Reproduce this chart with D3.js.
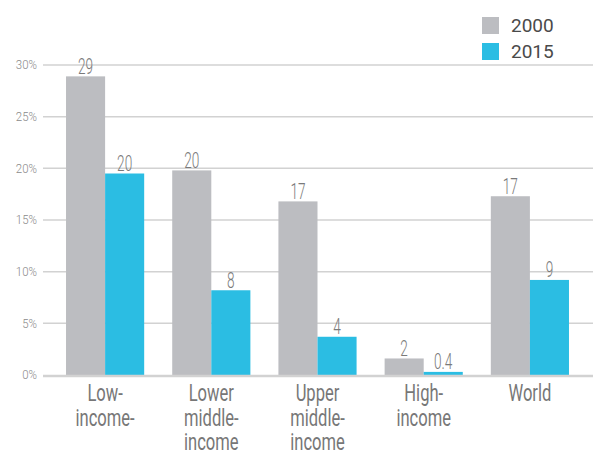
<!DOCTYPE html>
<html>
<head>
<meta charset="utf-8">
<script src="https://cdn.jsdelivr.net/npm/d3@7"></script>
<style>
html,body{margin:0;padding:0;background:#fff;}
svg{display:block;}
</style>
</head>
<body>
<script>
const categories = [["Low-","income-"],["Lower","middle-","income"],["Upper","middle-","income"],["High-","income"],["World"]];
const categoryKeys = ["Low-income","Lower middle-income","Upper middle-income","High-income","World"];
const series = ["2000","2015"];
const values2000 = [28.9, 19.8, 16.8, 1.6, 17.3];
const values2015 = [19.5, 8.2, 3.7, 0.3, 9.2];
const labels2000 = ["29","20","17","2","17"];
const labels2015 = ["20","8","4","0.4","9"];
const yTicks = [0,5,10,15,20,25,30];
const colors = ["#bcbdc1","#2bbde3"];

const W = 593, H = 455;
const svg = d3.select("body").append("svg").attr("width", W).attr("height", H);

const y = d3.scaleLinear().domain([0,30]).range([375,65]);
const x0 = d3.scaleBand().domain(categoryKeys).range([52,583]).paddingInner(0.264).paddingOuter(0.132);
const x1 = d3.scaleBand().domain(series).range([0, x0.bandwidth()]);

const FONT = "Roboto, 'Liberation Sans', sans-serif";

function ctext(parent, x, yy, sx, size, fill, anchor, weight) {
  const g = parent.append("g").attr("transform", `translate(${x},${yy})`);
  return g.append("text").attr("transform", `scale(${sx},1)`)
    .attr("text-anchor", anchor || "middle")
    .attr("font-family", FONT).attr("font-weight", weight || 300)
    .attr("font-size", size).attr("fill", fill);
}

// gridlines
svg.append("g").selectAll("line").data(yTicks.filter(t=>t>0)).join("line")
  .attr("x1",43).attr("x2",593).attr("y1",d=>y(d)).attr("y2",d=>y(d))
  .attr("stroke","#d2d2d2").attr("stroke-width",1.5);

// y tick labels
const yl = svg.append("g");
yTicks.forEach(t=>{
  ctext(yl, 37, y(t)+4.3, 0.88, 13, "#8a8a8a", "end").text(t+"%");
});

const data = categoryKeys.map((k,i)=>({key:k, vals:[
  {s:"2000", v:values2000[i], l:labels2000[i]},
  {s:"2015", v:values2015[i], l:labels2015[i]}]}));

const groups = svg.append("g").selectAll("g").data(data).join("g")
  .attr("transform",d=>`translate(${x0(d.key)},0)`);

groups.selectAll("rect").data(d=>d.vals).join("rect")
  .attr("x",d=>x1(d.s)).attr("width",x1.bandwidth())
  .attr("y",d=>y(d.v)).attr("height",d=>y(0)-y(d.v))
  .attr("fill",(d,i)=>colors[i]);

groups.each(function(d){
  const g = d3.select(this);
  d.vals.forEach(v=>{
    ctext(g, x1(v.s)+x1.bandwidth()/2, y(v.v)-2.5, 0.62, 22, "#7a7a7a").text(v.l);
  });
});

// baseline
svg.append("line").attr("x1",43).attr("x2",593).attr("y1",y(0)+1).attr("y2",y(0)+1)
  .attr("stroke","#d2d2d2").attr("stroke-width",2.5);

// category labels
const catG = svg.append("g");
categoryKeys.forEach((k,i)=>{
  categories[i].forEach((line,j)=>{
    ctext(catG, x0(k)+x0.bandwidth()/2, 401 + j*24.5, 0.72, 23, "#777", "middle", 400).text(line);
  });
});

// legend
const leg = svg.append("g");
series.forEach((s,i)=>{
  leg.append("rect").attr("x",482).attr("y",17+i*26).attr("width",17).attr("height",17).attr("fill",colors[i]);
  leg.append("text").attr("x",511).attr("y",17+i*26+8.5).attr("dy","0.35em")
    .attr("font-family",FONT).attr("font-size",19).attr("fill","#4a4a4a")
    .text(s);
});
</script>
</body>
</html>
